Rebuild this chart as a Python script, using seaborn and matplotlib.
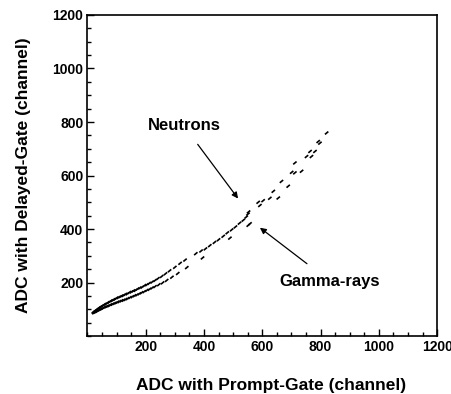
import matplotlib
matplotlib.use("Agg")
import matplotlib.pyplot as plt
from matplotlib.ticker import MultipleLocator, FixedLocator
import seaborn as sns
import pandas as pd

# ---- data ----
neutron_x = [20, 24, 28, 32, 36, 40, 44, 48, 52, 56, 60, 65, 70, 75, 80, 85, 90, 95,
             100, 106, 112, 118, 124, 130, 137, 144, 151, 158, 165, 172, 180, 188, 196,
             204, 212, 222, 232, 242, 255, 268, 282, 300, 318, 335, 372, 390, 405,
             420, 436, 450, 466, 480, 495, 508, 522, 535, 545, 551, 553,
             586, 603, 638, 666, 701, 712, 752, 764, 781, 792, 821]
neutron_y = [90, 93, 96, 99, 102, 106, 108, 111, 113, 116, 119, 121, 125, 127, 131, 133, 136, 138,
             142, 144, 147, 150, 152, 156, 158, 163, 165, 169, 171, 176, 180, 183, 189,
             192, 197, 202, 208, 215, 223, 233, 244, 257, 272, 284, 308, 318, 326,
             338, 350, 360, 373, 386, 397, 408, 422, 433, 445, 456, 464,
             500, 506, 541, 578, 612, 647, 671, 690, 690, 727, 759]
gamma_x = [22, 26, 30, 34, 38, 42, 46, 50, 55, 60, 65, 70, 75, 80, 86, 92, 98, 104, 110,
           117, 124, 131, 138, 146, 154, 162, 170, 178, 186, 195, 204, 213, 222, 232, 245,
           258, 272, 290, 310, 341, 395, 489, 552, 558,
           592, 626, 655, 689, 712, 735, 769, 798]
gamma_y = [87, 89, 91, 93, 96, 98, 100, 102, 105, 108, 110, 112, 114, 117, 119, 122, 124, 127, 129,
           132, 134, 137, 140, 144, 147, 151, 154, 158, 162, 166, 171, 175, 180, 185, 192,
           199, 208, 220, 234, 256, 292, 366, 414, 420,
           488, 515, 516, 560, 610, 616, 671, 721]

x_ticks = [200, 400, 600, 800, 1000, 1200]
y_ticks = [200, 400, 600, 800, 1000, 1200]

df = pd.concat([
    pd.DataFrame({"prompt": neutron_x, "delayed": neutron_y, "kind": "Neutrons"}),
    pd.DataFrame({"prompt": gamma_x, "delayed": gamma_y, "kind": "Gamma-rays"}),
], ignore_index=True)

sns.set_style("white")
plt.rcParams["font.family"] = ["Liberation Sans", "DejaVu Sans"]
plt.rcParams["font.weight"] = "bold"
for key in ["text.color", "axes.labelcolor", "xtick.color", "ytick.color", "axes.edgecolor"]:
    plt.rcParams[key] = "black"

fig = plt.figure(figsize=(4.52, 3.94), dpi=100)
ax = fig.add_axes([0.1934, 0.147, 0.7736, 0.815])

sns.scatterplot(data=df, x="prompt", y="delayed", hue="kind",
                palette={"Neutrons": "black", "Gamma-rays": "black"},
                marker=(2, 0, -50), s=10, linewidth=1.2, edgecolor="black",
                legend=False, ax=ax)

ax.set_xlim(0, 1200)
ax.set_ylim(0, 1200)
ax.xaxis.set_major_locator(FixedLocator(x_ticks))
ax.yaxis.set_major_locator(FixedLocator(y_ticks))
ax.xaxis.set_minor_locator(MultipleLocator(50))
ax.yaxis.set_minor_locator(MultipleLocator(50))
ax.set_xticklabels([str(t) for t in x_ticks])
ax.set_yticklabels([str(t) for t in y_ticks])
ax.tick_params(which="both", direction="in", color="black", width=1.0,
               left=True, bottom=True, top=False, right=False)
ax.tick_params(which="major", length=5, labelsize=10, pad=3, labelcolor="black")
ax.tick_params(which="minor", length=3)
for lbl in ax.get_xticklabels() + ax.get_yticklabels():
    lbl.set_fontweight("bold")
for sp in ax.spines.values():
    sp.set_color("black")
    sp.set_linewidth(1.2)

ax.set_xlabel("ADC with Prompt-Gate (channel)", fontsize=12.5, fontweight="bold",
              labelpad=17, color="black")
ax.xaxis.label.set_x(0.524)
ax.set_ylabel("ADC with Delayed-Gate (channel)", fontsize=12.5, fontweight="bold",
              labelpad=15, color="black")

ax.annotate("Neutrons", xy=(517, 514), xytext=(331, 786),
            ha="center", va="center", fontsize=12, fontweight="bold", color="black",
            arrowprops=dict(arrowstyle="-|>", color="black", lw=0.9,
                            mutation_scale=9, shrinkA=7, shrinkB=0))
ax.annotate("Gamma-rays", xy=(592, 405), xytext=(832, 205),
            ha="center", va="center", fontsize=12, fontweight="bold", color="black",
            arrowprops=dict(arrowstyle="-|>", color="black", lw=0.9,
                            mutation_scale=9, shrinkA=8, shrinkB=0))

fig.savefig("out.png", dpi=100, facecolor="white")
